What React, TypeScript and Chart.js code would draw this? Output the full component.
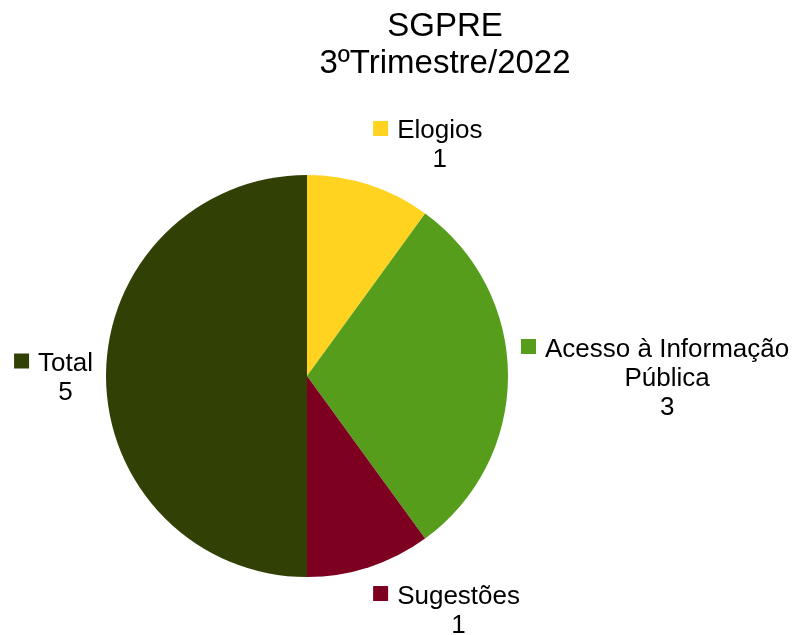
import React, { useEffect, useRef } from "react";
import { Chart, registerables } from "chart.js";

Chart.register(...registerables);

const titleLines = ["SGPRE", "3ºTrimestre/2022"];
const categories: (string | string[])[] = ["Elogios", ["Acesso à Informação", "Pública"], "Sugestões", "Total"];
const values = [1, 3, 1, 5];
const colors = ["#FFD320", "#579D1C", "#7E0021", "#314004"];

const FONT = '"Liberation Sans", Arial, sans-serif';

const labelPlugin = {
  id: "outerLabels",
  afterDraw(chart: any) {
    const ctx = chart.ctx as CanvasRenderingContext2D;
    ctx.save();
    // title
    ctx.fillStyle = "#000";
    ctx.textAlign = "center";
    ctx.textBaseline = "alphabetic";
    ctx.font = `33px ${FONT}`;
    titleLines.forEach((t, i) => ctx.fillText(t, 445, 36 + i * 37));

    const meta = chart.getDatasetMeta(0);
    const fontSize = 26;
    const LH = 29;
    const sq = 15;
    const gap = 9;
    ctx.font = `${fontSize}px ${FONT}`;
    meta.data.forEach((arc: any, i: number) => {
      const p = arc.getProps(["x", "y", "startAngle", "endAngle", "outerRadius"], true);
      const mid = (p.startAngle + p.endAngle) / 2;
      const r = p.outerRadius + 13;
      const ax = p.x + Math.cos(mid) * r;
      const ay = p.y + Math.sin(mid) * r;
      const cat = categories[i];
      const lines = (Array.isArray(cat) ? cat : [cat]).concat([String(values[i])]);
      const widths = lines.map((l) => ctx.measureText(l).width);
      const colW = Math.max(...widths);
      const blockW = sq + gap + colW;
      const blockH = lines.length * LH;
      const c = Math.cos(mid);
      const s = Math.sin(mid);
      let left: number;
      if (c > 0.1) left = ax;
      else if (c < -0.1) left = ax - blockW;
      else left = ax - blockW / 2;
      let top: number;
      if (s < -0.1) top = ay - blockH;
      else if (s > 0.1) top = ay;
      else top = ay - blockH / 2;
      const colCenter = left + sq + gap + colW / 2;
      const base0 = top + 24;
      ctx.fillStyle = colors[i];
      ctx.fillRect(left, base0 - 17.5, sq, sq);
      ctx.fillStyle = "#000";
      ctx.textAlign = "center";
      lines.forEach((l, k) => ctx.fillText(l, colCenter, base0 + k * LH));
    });
    ctx.restore();
  },
};

export default function App() {
  const ref = useRef<HTMLCanvasElement>(null);
  useEffect(() => {
    document.body.style.margin = "0";
    const chart = new Chart(ref.current!, {
      type: "pie",
      data: {
        labels: categories as any,
        datasets: [
          {
            data: values,
            backgroundColor: colors,
            borderWidth: 0,
          },
        ],
      },
      options: {
        responsive: false,
        animation: false,
        layout: { padding: { left: 106, top: 175, right: 290, bottom: 58 } },
        plugins: {
          legend: { display: false },
          title: { display: false },
          tooltip: { enabled: false },
        },
      },
      plugins: [labelPlugin],
    });
    return () => chart.destroy();
  }, []);
  return (
    <div style={{ position: "absolute", left: 0, top: 0, width: 798, height: 635, background: "#fff" }}>
      <canvas ref={ref} width={798} height={635} />
    </div>
  );
}
